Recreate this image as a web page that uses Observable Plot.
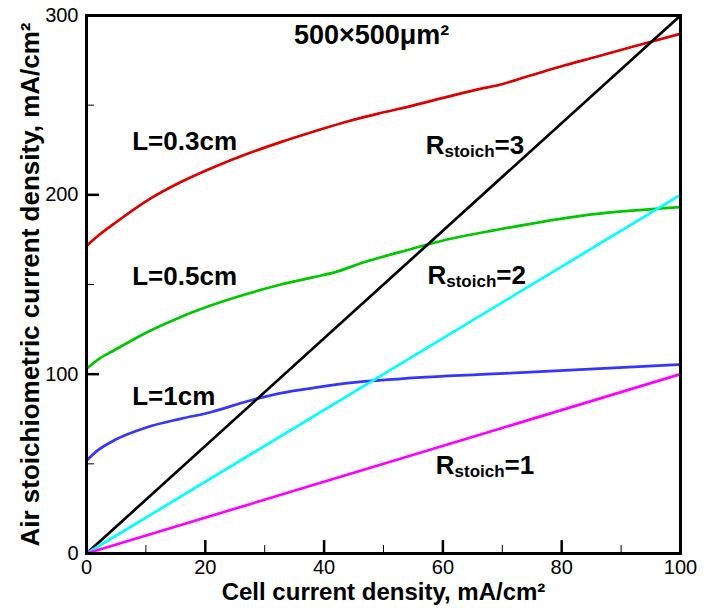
<!DOCTYPE html>
<html>
<head>
<meta charset="utf-8">
<script src="https://cdn.jsdelivr.net/npm/d3@7"></script>
<script src="https://cdn.jsdelivr.net/npm/@observablehq/plot@0.6"></script>
<style>
  html, body { margin: 0; padding: 0; background: white; }
</style>
</head>
<body>
<div id="chart"></div>
<script>
// ---- data ----
const L03_x = [0, 2, 4.6, 10.2, 15.8, 21.4, 27.1, 32.7, 38.3, 43.9, 49.5, 55.1, 60.7, 66.3, 69.1, 74.7, 80.4, 86, 91.6, 100];
const L03_y = [171.5, 177.3, 183.8, 196.8, 207, 215.4, 222.9, 229.4, 235.3, 240.9, 245.6, 249.9, 254.6, 259.1, 261, 266.5, 272.1, 277.1, 282.3, 289.8];

const L05_x = [0, 2, 4.6, 10.2, 15.8, 21.4, 27.1, 32.7, 38.3, 41.9, 46.7, 52.9, 60.7, 69.1, 83.2, 100];
const L05_y = [103, 108.3, 113.2, 123.4, 131.8, 138.8, 144.8, 150, 154.1, 156.9, 162.4, 168.2, 175.1, 180.5, 188.3, 193.1];

const L1_x = [0, 2, 4.6, 10.2, 15.8, 20.9, 27.1, 32.7, 38.3, 43.9, 52.9, 74.7, 100];
const L1_y = [51.9, 57.8, 63, 70.4, 75.1, 78.8, 84.9, 89.4, 92.4, 95, 97.4, 101.1, 105.4];

const R_x  = [0, 100];
const R1_y = [0, 100];
const R2_y = [0, 200];
const R3_y = [0, 300];

const xTicks = [0, 20, 40, 60, 80, 100];
const xMinor = [10, 30, 50, 70, 90];
const yTicks = [0, 100, 200, 300];
const yMinor = [50, 150, 250];

const xLabel = "Cell current density, mA/cm²";
const yLabel = "Air stoichiometric current density, mA/cm²";
const title = "500×500μm²";

// annotation anchors (data units)
const curveLabels = [
  {text: "L=0.3cm", x: 7.7, y: 229.9},
  {text: "L=0.5cm", x: 7.7, y: 154.1},
  {text: "L=1cm",   x: 7.7, y: 87.6}
];
const ratioLabels = [
  {text: "Rstoich=3", x: 57.1, y: 227.5},
  {text: "Rstoich=2", x: 57.4, y: 155},
  {text: "Rstoich=1", x: 58.8, y: 49.1}
];

// ---- build tables ----
const toRows = (xs, ys, series) => xs.map((x, i) => ({x, y: ys[i], series}));
const curves = [
  ...toRows(L03_x, L03_y, "L=0.3cm"),
  ...toRows(L05_x, L05_y, "L=0.5cm"),
  ...toRows(L1_x, L1_y, "L=1cm")
];
const ratios = [
  ...toRows(R_x, R3_y, "R=3"),
  ...toRows(R_x, R2_y, "R=2"),
  ...toRows(R_x, R1_y, "R=1")
];
const colors = {
  "L=0.3cm": "#dd0000",
  "L=0.5cm": "#00c800",
  "L=1cm": "#3535ff",
  "R=3": "#000000",
  "R=2": "#00ffff",
  "R=1": "#ff00ff"
};

const chart = Plot.plot({
  width: 715,
  height: 608,
  marginLeft: 86,
  marginRight: 35,
  marginTop: 15,
  marginBottom: 55,
  style: {fontFamily: "'Liberation Sans', Arial, sans-serif", fontSize: "20px", color: "black", background: "white"},
  x: {domain: [0, 100]},
  y: {domain: [0, 300]},
  marks: [
    Plot.axisX({ticks: xTicks, tickSize: 0, tickPadding: 6, fontSize: 20, label: null}),
    Plot.axisY({ticks: yTicks, tickSize: 0, tickPadding: 8, fontSize: 20, label: null}),
    // inward ticks
    Plot.ruleX(xTicks.slice(1, -1), {x: d => d, y1: 0, y2: 7.2, stroke: "black", strokeWidth: 2.5}),
    Plot.ruleX(xMinor, {x: d => d, y1: 0, y2: 4.4, stroke: "black", strokeWidth: 1}),
    Plot.ruleY(yTicks.slice(1, -1), {y: d => d, x1: 0, x2: 2.2, stroke: "black", strokeWidth: 2.5}),
    Plot.ruleY(yMinor, {y: d => d, x1: 0, x2: 1.35, stroke: "black", strokeWidth: 1}),
    Plot.line(curves, {x: "x", y: "y", z: "series", stroke: d => colors[d.series], strokeWidth: 2.7, curve: "monotone-x"}),
    Plot.line(ratios, {x: "x", y: "y", z: "series", stroke: d => colors[d.series], strokeWidth: 2.7}),
    Plot.frame({stroke: "black", strokeWidth: 3}),
    Plot.text(curveLabels, {x: "x", y: "y", text: "text", textAnchor: "start", fontSize: 26, fontWeight: "bold", fill: "black"}),
    Plot.text(ratioLabels, {x: "x", y: "y", text: "text", textAnchor: "start", fontSize: 26, fontWeight: "bold", fill: "black"}),
    Plot.text([title], {x: 48, y: 288.9, text: d => d, fontSize: 27, fontWeight: "bold", fill: "black"}),
    Plot.text([xLabel], {frameAnchor: "bottom", textAnchor: "middle", lineAnchor: "middle", dy: 39, text: d => d, fontSize: 24, fontWeight: "bold", fill: "black"}),
    Plot.text([yLabel], {frameAnchor: "left", textAnchor: "middle", lineAnchor: "middle", dx: -56, rotate: -90, text: d => d, fontSize: 26, fontWeight: "bold", fill: "black"})
  ]
});

// subscript formatting for R_stoich labels
d3.select(chart).selectAll("text").each(function() {
  const t = d3.select(this);
  const s = this.textContent;
  const m = /^R(stoich)(=\d)$/.exec(s);
  if (!m) return;
  t.text(null);
  t.append("tspan").text("R");
  t.append("tspan").attr("font-size", 17).attr("dy", 3).text(m[1]);
  t.append("tspan").attr("dy", -3).text(m[2]);
});

document.getElementById("chart").append(chart);
</script>
</body>
</html>
